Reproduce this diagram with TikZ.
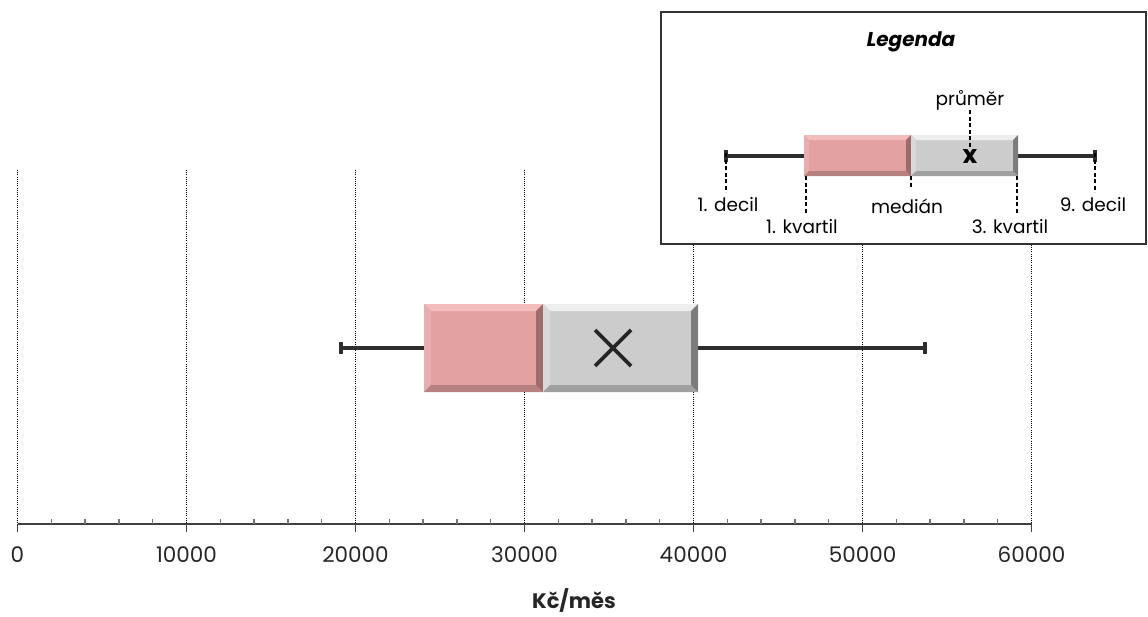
\documentclass[tikz,border=0pt]{standalone}
\usepackage{fontspec}
\setmainfont{Poppins}
\definecolor{pkbase}{HTML}{E4A1A1}
\definecolor{pktop}{HTML}{F4BDBD}
\definecolor{pkleft}{HTML}{E8AEAE}
\definecolor{pkbot}{HTML}{B88181}
\definecolor{pkright}{HTML}{9E6A6A}
\definecolor{grbase}{HTML}{CCCCCC}
\definecolor{grtop}{HTML}{EEEEEE}
\definecolor{grleft}{HTML}{D8D8D8}
\definecolor{grbot}{HTML}{A0A0A0}
\definecolor{grright}{HTML}{7C7C7C}
\definecolor{axisc}{HTML}{404040}
\newcommand\bevbox[6]{%
  \fill[#5base] (#1,#2) rectangle (#3,#4);
  \fill[#5top] (#1,#2) -- (#3,#2) -- ({#3-#6},{#2+#6}) -- ({#1+#6},{#2+#6}) -- cycle;
  \fill[#5left] (#1,#2) -- ({#1+#6},{#2+#6}) -- ({#1+#6},{#4-#6}) -- (#1,#4) -- cycle;
  \fill[#5bot] (#1,#4) -- ({#1+#6},{#4-#6}) -- ({#3-#6},{#4-#6}) -- (#3,#4) -- cycle;
  \fill[#5right] (#3,#2) -- (#3,#4) -- ({#3-#6},{#4-#6}) -- ({#3-#6},{#2+#6}) -- cycle;
}
\tikzset{
  grid line/.style={line width=0.8pt, black, dash pattern=on 1pt off 1.2pt},
  whisker/.style={line width=3.2pt, black!82},
  whiskercap/.style={line width=3.4pt, black!82},
  ticklab/.style={font=\fontsize{21.5}{24}\selectfont, text=black!85},
  leglab/.style={font=\fontsize{18.5}{21}\selectfont, text=black},
  legdash/.style={line width=2pt, black, dash pattern=on 4pt off 2.5pt},
  mark x/.style={line width=3.8pt, black!85},
}
\begin{document}
\begin{tikzpicture}[x=1pt,y=-1pt]
\useasboundingbox (0,0) rectangle (1148,616);
% grid lines
\foreach \i in {0,...,6}{
  \draw[grid line] ({17.5+169*\i},170) -- ({17.5+169*\i},524);
}
% axis
\draw[axisc, line width=1.4pt] (17.5,524) -- (1031.5,524);
\foreach \i/\lab in {0/0,1/10000,2/20000,3/30000,4/40000,5/50000,6/60000}{
  \draw[axisc, line width=1.4pt] ({17.5+169*\i},524) -- ({17.5+169*\i},532);
  \node[ticklab] (t\i) at ({17.5+169*\i},555) {\lab};
}
\foreach \i in {1,...,29}{
  \pgfmathtruncatemacro\r{mod(\i,5)}
  \ifnum\r=0\relax\else
    \draw[black!55, line width=1.4pt] ({17.5+33.8*\i},524) -- ({17.5+33.8*\i},518.5);
  \fi
}
\node[font=\bfseries\fontsize{21}{23}\selectfont, text=black!85] (xlab) at (574,600) {Kč/měs};

% main boxplot
\coordinate (wl) at (341,348);
\coordinate (wr) at (925,348);
\coordinate (q1) at (424,348);
\coordinate (q3) at (698,348);
\draw[whisker] (wl) -- (q1);
\draw[whisker] (q3) -- (wr);
\draw[whiskercap] ([yshift=-6pt]wl) -- ([yshift=6pt]wl);
\draw[whiskercap] ([yshift=-6pt]wr) -- ([yshift=6pt]wr);
\bevbox{424}{304}{543}{392}{pk}{7}
\bevbox{543}{304}{698}{392}{gr}{7}
\node[inner sep=0pt, minimum width=118pt, minimum height=88pt] (pinkbox) at (483.5,348) {};
\node[inner sep=0pt, minimum width=155pt, minimum height=88pt] (graybox) at (620.5,348) {};
\coordinate (mean) at (613,348);
\draw[mark x] ([shift={(-18,-18)}]mean) -- ([shift={(18,18)}]mean);
\draw[mark x] ([shift={(-18,18)}]mean) -- ([shift={(18,-18)}]mean);

% legend
\draw[line width=2pt, black!80, fill=white] (661,12) rectangle (1146,244);
\node[font=\bfseries\itshape\fontsize{20}{22}\selectfont] (legtitle) at (911,42) {Legenda};
\coordinate (lwl) at (726,156);
\coordinate (lwr) at (1095,156);
\coordinate (lq1) at (804,156);
\coordinate (lq3) at (1018,156);
\draw[whisker] (lwl) -- (lq1);
\draw[whisker] (lq3) -- (lwr);
\draw[whiskercap] ([yshift=-6pt]lwl) -- ([yshift=6pt]lwl);
\draw[whiskercap] ([yshift=-6pt]lwr) -- ([yshift=6pt]lwr);
\bevbox{804}{135}{911}{176}{pk}{5}
\bevbox{911}{135}{1018}{176}{gr}{5}
\node[font=\bfseries\fontsize{25}{27}\selectfont, inner sep=0pt] (lmean) at (970,157) {x};
\node[leglab] (lprumer) at (970,100) {průměr};
\draw[legdash] (970,110) -- (970,147);
\node[leglab] (ld1) at (728,205) {1. decil};
\node[leglab] (lk1) at (802,227) {1. kvartil};
\node[leglab] (lmed) at (907,206) {medián};
\node[leglab] (lk3) at (1010,227) {3. kvartil};
\node[leglab] (ld9) at (1093,205) {9. decil};
\draw[legdash] ([yshift=3pt]lwl) -- (726,192);
\draw[legdash] (806,176) -- (806,213);
\draw[legdash] (911,176) -- (911,187);
\draw[legdash] (1017,176) -- (1017,213);
\draw[legdash] ([yshift=3pt]lwr) -- (1095,192);
\end{tikzpicture}
\end{document}
